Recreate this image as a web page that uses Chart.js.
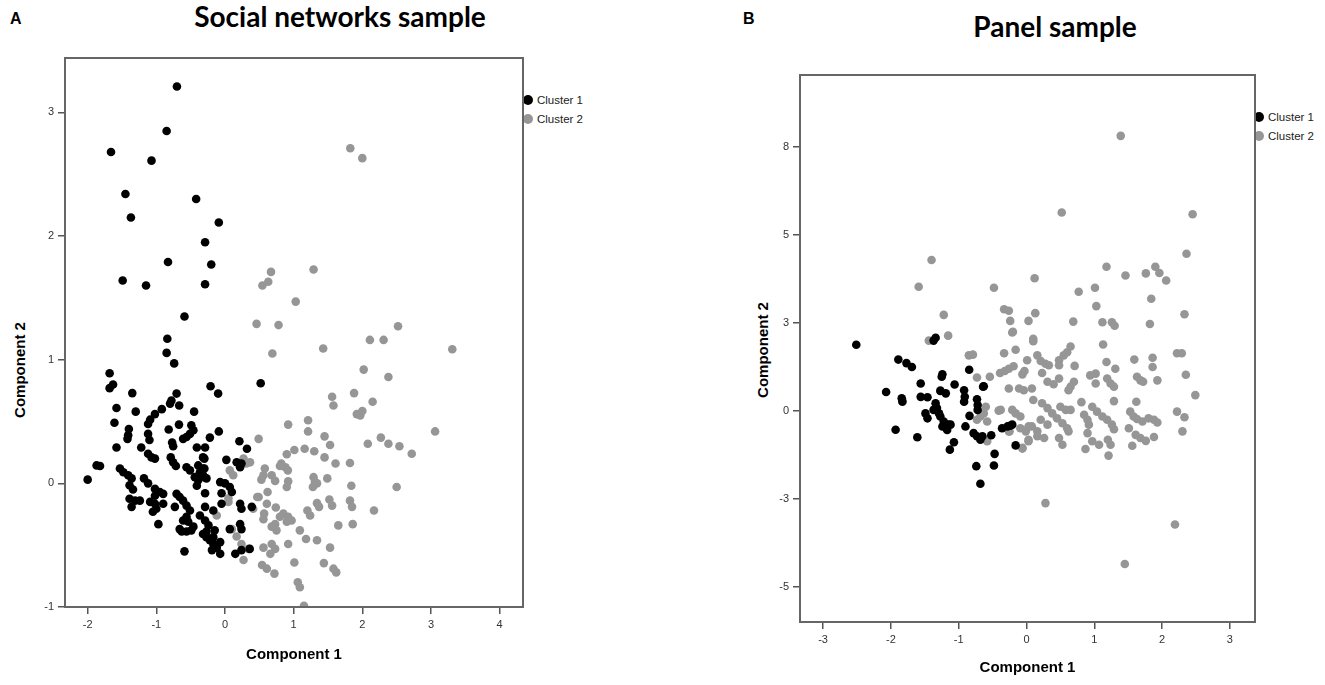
<!DOCTYPE html>
<html>
<head>
<meta charset="utf-8">
<script src="https://cdn.jsdelivr.net/npm/chart.js@4.4.1/dist/chart.umd.min.js"></script>
<style>
  body { margin: 0; background: #fff; width: 1325px; height: 685px; position: relative; overflow: hidden; font-family: "Liberation Sans", Arial, sans-serif; }
  canvas { position: absolute; top: 0; }
  .letter { position: absolute; font-weight: bold; font-size: 16px; line-height: 16px; }
  .title { position: absolute; font-family: Lato, sans-serif; font-weight: bold; font-size: 28px; line-height: 30px; transform: translateX(-50%); white-space: nowrap; }
  .ytitle { position: absolute; font-weight: bold; font-size: 15px; transform: translate(-50%, -50%) rotate(-90deg); white-space: nowrap; }
  .legend { position: absolute; font-size: 11.5px; color: #222; }
  .legend div { height: 19px; display: flex; align-items: center; }
  .legend span { display: inline-block; width: 10px; height: 10px; border-radius: 50%; margin-right: 4px; }
</style>
</head>
<body>
<div class="letter" style="left:10px;top:11px">A</div>
<div class="letter" style="left:743px;top:11px">B</div>
<div class="title" style="left:340px;top:1px">Social networks sample</div>
<div class="title" style="left:1055px;top:11px">Panel sample</div>
<div class="ytitle" style="left:19px;top:370px">Component 2</div>
<div class="ytitle" style="left:762px;top:350px">Component 2</div>
<div class="legend" id="legendA" style="left:523px;top:90px"></div>
<div class="legend" id="legendB" style="left:1254px;top:107px"></div>

<canvas id="socialChart" width="640" height="685" style="left:0"></canvas>
<canvas id="panelChart" width="585" height="685" style="left:740px"></canvas>

<script>
const clusterNames = ['Cluster 1', 'Cluster 2'];
const clusterColors = ['#000000', '#969696'];

// Social networks sample: [component 1, component 2]
const socialCluster1 = [
  [-0.70,3.21],[-0.85,2.85],[-1.66,2.68],[-1.07,2.61],[-1.45,2.34],[-0.42,2.30],[-1.37,2.15],[-0.09,2.11],
  [-0.29,1.95],[-0.83,1.79],[-0.20,1.77],[-1.49,1.64],[-1.15,1.60],[-0.29,1.61],[-0.59,1.35],[-0.84,1.17],
  [-0.85,1.055],[-0.74,0.97],[-1.68,0.89],[-1.63,0.80],[-1.68,0.77],[-1.35,0.73],[-0.21,0.785],[-0.10,0.726],
  [0.52,0.81],[-0.705,0.726],[-0.78,0.67],[-0.80,0.645],[-0.667,0.63],[-1.58,0.61],[-1.30,0.58],[-0.92,0.60],
  [-1.02,0.56],[-1.09,0.515],[-1.12,0.48],[-0.45,0.58],[-1.61,0.49],[-1.40,0.44],[-1.41,0.39],[-1.42,0.36],
  [-0.67,0.475],[-0.82,0.435],[-0.49,0.47],[-0.46,0.43],[-0.51,0.40],[-0.56,0.375],[-0.61,0.36],[-0.09,0.42],
  [-0.22,0.37],[-1.12,0.40],[-1.10,0.35],[0.21,0.34],[-0.77,0.33],[-0.755,0.30],[-1.22,0.29],[-1.58,0.29],
  [-0.41,0.29],[-0.29,0.29],[0.32,0.28],[-1.12,0.24],[-1.07,0.21],[-1.02,0.20],[-0.32,0.21],[-0.79,0.21],
  [-0.755,0.17],[-0.715,0.14],[0.02,0.19],[0.17,0.17],[0.22,0.13],[-0.56,0.13],[-0.51,0.105],[-0.39,0.145],
  [-0.32,0.12],[-0.365,0.09],[-0.32,0.065],[-0.27,0.04],[-1.87,0.145],[-1.82,0.14],[-2.00,0.03],[-1.53,0.12],
  [-1.48,0.09],[-1.41,0.065],[-1.36,0.04],[-1.39,-0.015],[-1.34,-0.05],[-1.18,0.04],[-1.12,0.00],[-1.02,-0.045],
  [-0.95,-0.07],[-0.90,-0.085],[-1.02,-0.10],[-0.44,0.05],[-0.39,0.025],[-0.41,-0.02],[-0.07,0.01],[0.00,0.00],
  [0.07,-0.03],[0.10,-0.07],[-0.05,-0.08],[-0.705,-0.085],[-0.66,-0.11],[-0.61,-0.14],[-0.56,-0.18],[-0.51,-0.22],
  [-1.39,-0.125],[-1.31,-0.14],[-1.24,-0.14],[-1.36,-0.19],[-1.09,-0.15],[-1.02,-0.165],[-1.00,-0.205],[-1.05,-0.23],
  [-0.90,-0.165],[-0.73,-0.19],[-0.97,-0.33],[-0.56,-0.27],[-0.61,-0.30],[-0.535,-0.31],[-0.46,-0.35],[-0.49,-0.38],
  [-0.66,-0.37],[-0.63,-0.39],[-0.56,-0.39],[-0.365,-0.26],[-0.29,-0.30],[-0.24,-0.34],[-0.32,-0.41],[-0.27,-0.435],
  [-0.22,-0.46],[-0.17,-0.49],[-0.12,-0.52],[-0.07,-0.57],[-0.19,-0.54],[-0.27,-0.39],[-0.15,-0.38],[-0.17,-0.435],
  [-0.07,-0.475],[-0.59,-0.55],[-0.17,-0.22],[-0.05,-0.165],[0.22,-0.165],[0.24,-0.205],[0.24,0.16],[-0.30,0.20],
  [-0.30,0.12],[-0.30,0.05],[0.39,-0.19],[-0.29,-0.08],[-0.29,-0.19],[0.07,-0.37],[0.22,-0.33],[0.24,-0.37],
  [0.15,-0.57],[0.24,-0.54],[0.36,-0.53]
];
const socialCluster2 = [
  [0.67,1.71],[0.63,1.63],[0.545,1.60],[1.825,2.71],[2.00,2.63],[1.29,1.73],[1.03,1.47],[0.46,1.29],
  [0.78,1.28],[2.52,1.27],[2.11,1.16],[2.31,1.16],[0.69,1.05],[1.43,1.09],[3.31,1.085],[2.02,0.92],
  [2.38,0.86],[1.56,0.70],[1.58,0.63],[1.88,0.73],[2.15,0.66],[1.92,0.56],[2.00,0.585],[1.97,0.55],
  [0.92,0.475],[1.21,0.51],[1.21,0.42],[0.49,0.36],[3.06,0.42],[1.45,0.38],[1.53,0.31],[2.08,0.32],
  [2.27,0.37],[2.38,0.32],[2.54,0.30],[2.72,0.24],[1.01,0.27],[0.90,0.235],[1.16,0.28],[1.30,0.26],
  [1.45,0.21],[1.61,0.16],[1.82,0.165],[0.82,0.16],[0.80,0.14],[0.88,0.13],[0.915,0.105],[0.58,0.12],
  [0.68,0.065],[0.73,0.02],[0.92,0.016],[0.90,-0.03],[0.53,0.03],[1.29,0.05],[1.31,0.01],[1.28,-0.03],
  [1.34,0.00],[1.49,0.04],[1.84,-0.02],[2.50,-0.03],[0.62,-0.07],[0.47,-0.11],[0.74,-0.195],[0.61,-0.165],
  [0.56,-0.29],[0.57,-0.245],[1.34,-0.16],[1.37,-0.19],[1.52,-0.13],[1.56,-0.18],[1.82,-0.14],[1.85,-0.19],
  [2.17,-0.22],[1.20,-0.22],[1.24,-0.26],[0.85,-0.245],[0.92,-0.27],[0.97,-0.30],[0.90,-0.31],[0.80,-0.27],
  [0.73,-0.33],[0.75,-0.38],[0.68,-0.35],[1.09,-0.38],[1.18,-0.45],[1.65,-0.34],[1.86,-0.33],[1.34,-0.46],
  [1.53,-0.52],[0.92,-0.49],[0.68,-0.49],[0.73,-0.53],[0.66,-0.57],[0.56,-0.52],[0.54,-0.66],[0.61,-0.69],
  [0.72,-0.73],[1.01,-0.64],[1.44,-0.645],[1.58,-0.69],[1.62,-0.72],[1.06,-0.80],[1.09,-0.84],[1.15,-0.99],
  [0.31,0.16],[0.365,0.17],[0.05,-0.12],[-0.12,-0.26],[0.10,-0.37],[0.17,-0.43],[0.24,-0.49],[0.27,-0.62],
  [0.34,-0.53],[0.41,-0.205],[0.27,0.20],[0.07,0.105],[0.12,0.065],[0.56,0.065],[0.49,-0.11],[0.05,-0.15]
];

// Panel sample
const panelCluster1 = [
  [-2.51,1.88],[-1.34,2.08],[-1.37,2.00],[-1.89,1.46],[-1.77,1.36],[-1.69,1.25],[-0.845,1.17],[-1.24,1.04],
  [-1.25,0.97],[-1.56,0.78],[-1.06,0.75],[-0.63,0.70],[-2.07,0.54],[-1.19,0.50],[-1.27,0.57],[-0.92,0.59],
  [-0.91,0.40],[-0.92,0.26],[-1.56,0.40],[-1.46,0.39],[-1.84,0.36],[-1.83,0.26],[-1.34,0.22],[-1.32,0.08],
  [-1.29,-0.07],[-1.37,0.03],[-1.49,-0.07],[-1.46,-0.21],[-0.73,0.33],[-0.72,0.17],[-0.72,0.03],[-0.84,-0.14],
  [-1.27,-0.16],[-1.22,-0.30],[-1.15,-0.39],[-1.24,-0.44],[-1.17,-0.54],[-1.12,-0.39],[-0.90,-0.44],[-1.93,-0.535],
  [-1.61,-0.75],[-0.78,-0.63],[-0.73,-0.72],[-0.68,-0.82],[-0.65,-0.72],[-0.52,-0.69],[-0.36,-0.49],[-0.24,-0.42],
  [-0.16,-0.98],[-1.07,-0.89],[-1.13,-1.10],[-0.47,-1.22],[-0.74,-1.57],[-0.48,-1.55],[-0.68,-2.07],[-0.64,0.69],
  [-0.28,-0.44],[-0.21,-0.39]
];
const panelCluster2 = [
  [-1.22,2.73],[-1.155,2.14],[-1.44,2.00],[-0.85,1.58],[-0.79,1.60],[-0.33,2.89],[-0.26,2.85],[-0.24,2.56],
  [-0.21,2.23],[0.13,2.78],[0.03,2.56],[0.10,1.98],[-0.33,1.64],[-0.16,1.74],[0.01,1.44],[0.16,1.58],
  [-0.73,0.95],[-0.54,0.97],[-0.39,1.08],[-0.32,1.135],[-0.26,1.20],[-0.19,1.27],[-0.06,1.04],[-0.03,1.135],
  [-0.26,0.64],[-0.11,0.64],[-0.04,0.59],[0.08,0.64],[0.10,0.31],[-0.41,0.01],[-0.21,0.03],[-0.16,-0.07],
  [-0.09,-0.16],[-0.73,-0.25],[-0.68,-0.16],[-0.63,-0.07],[-0.58,-0.30],[-0.58,-0.86],[-0.26,-0.58],[-0.09,-0.49],
  [-0.01,-0.58],[0.08,-0.44],[-0.06,-1.05],[0.03,-0.82],[-1.27,0.59],[-1.83,0.30],[-0.60,0.12],[0.16,-0.72],
  [1.39,7.82],[0.52,5.64],[2.45,5.59],[2.36,4.47],[1.18,4.10],[1.46,3.85],[1.76,3.91],[1.90,4.10],
  [1.96,3.92],[2.06,3.71],[0.12,3.77],[0.77,3.39],[1.01,3.50],[1.03,2.98],[1.84,3.19],[2.33,2.75],
  [0.69,2.54],[1.12,2.52],[1.26,2.52],[1.30,2.42],[1.82,2.47],[0.10,2.05],[-0.20,2.25],[0.21,1.42],
  [0.28,1.34],[0.33,1.30],[0.65,1.83],[0.60,1.67],[0.55,1.58],[0.48,1.44],[0.48,1.30],[0.71,1.28],
  [1.13,1.89],[1.18,1.39],[1.31,1.20],[1.59,1.46],[1.86,1.51],[1.86,1.25],[2.22,1.64],[2.29,1.64],
  [2.35,1.03],[2.49,0.45],[0.23,1.08],[0.31,0.83],[0.40,0.76],[0.48,0.92],[0.65,0.69],[0.70,0.83],
  [0.62,0.59],[0.94,1.01],[1.02,1.06],[1.02,0.78],[1.19,0.92],[1.24,0.78],[1.29,0.69],[1.63,0.97],
  [1.68,0.87],[1.72,0.83],[1.93,0.87],[-0.38,0.03],[0.23,0.22],[0.31,0.08],[0.38,-0.07],[0.45,-0.21],
  [0.53,-0.35],[0.60,-0.49],[0.62,-0.58],[0.50,0.12],[0.58,0.03],[0.65,0.03],[0.81,0.25],[0.97,0.12],
  [1.04,-0.02],[1.12,-0.16],[1.19,-0.25],[1.26,-0.39],[1.29,-0.52],[0.85,-0.11],[0.90,-0.25],[0.92,-0.39],
  [1.29,0.28],[1.62,0.26],[1.53,-0.02],[1.58,-0.16],[1.63,-0.23],[1.71,-0.30],[1.80,-0.21],[1.88,-0.25],
  [1.93,-0.33],[1.51,-0.49],[1.61,-0.68],[1.68,-0.77],[1.76,-0.85],[1.88,-0.74],[1.56,-0.99],[2.22,-0.02],
  [2.33,-0.18],[2.30,-0.58],[0.21,-0.25],[0.31,-0.39],[0.16,-0.58],[0.26,-0.77],[0.03,-0.44],[0.03,-0.86],
  [0.48,-0.77],[0.53,-0.96],[0.90,-0.63],[0.97,-0.86],[1.07,-0.96],[1.20,-0.82],[1.24,-0.96],[0.87,-1.08],
  [1.21,-1.27],[-0.06,-1.07],[-0.25,-0.58],[0.28,-2.62],[2.19,-3.23],[1.45,-4.35],[-1.40,4.29],[-1.59,3.53],
  [-0.48,3.50]
];

// tick values and their printed labels
const socialXTicks = [-2, -1, 0, 1, 2, 3, 4];
const socialYTicks = [-1, 0, 1, 2, 3];
const panelXTicks = [-3, -2, -1, 0, 1, 2, 3];
const panelYTicks = [-5, -2.5, 0, 2.5, 5, 7.5];
const panelYTickLabels = ['-5', '-3', '0', '3', '5', '8'];

const toPoints = arr => arr.map(p => ({ x: p[0], y: p[1] }));

// box round the plot area
const framePlugin = {
  id: 'frame',
  afterDatasetsDraw(chart) {
    const { ctx, chartArea: a } = chart;
    ctx.save();
    ctx.strokeStyle = '#666';
    ctx.lineWidth = 2;
    ctx.strokeRect(a.left, a.top, a.right - a.left, a.bottom - a.top);
    ctx.restore();
  }
};

function axis(min, max, tickVals, labels, extra) {
  return Object.assign({
    type: 'linear',
    min: min,
    max: max,
    afterBuildTicks: s => { s.ticks = tickVals.map(v => ({ value: v })); },
    ticks: {
      padding: 4,
      color: '#333',
      font: { family: 'Liberation Sans', size: 11 },
      callback: v => labels ? labels[tickVals.indexOf(v)] : String(v)
    },
    grid: { drawOnChartArea: false, drawTicks: true, tickLength: 7, color: '#555', lineWidth: 1.5 },
    border: { display: true, color: '#666', width: 2 }
  }, extra);
}

function makeChart(id, c1, c2, o) {
  const ctx = document.getElementById(id).getContext('2d');
  return new Chart(ctx, {
    type: 'scatter',
    data: {
      datasets: [c1, c2].map((d, i) => ({
        label: clusterNames[i],
        data: toPoints(d),
        backgroundColor: clusterColors[i],
        borderWidth: 0,
        pointRadius: 4.3,
        pointHoverRadius: 4.3
      }))
    },
    options: {
      responsive: false,
      animation: false,
      devicePixelRatio: 1,
      events: [],
      layout: { padding: { left: 0, top: o.top, right: o.right, bottom: 0 } },
      plugins: { legend: { display: false }, tooltip: { enabled: false } },
      scales: {
        x: axis(o.xMin, o.xMax, o.xTicks, null, {
          afterFit: s => { s.height = o.xH; },
          title: { display: true, text: 'Component 1', color: '#000',
                   font: { family: 'Liberation Sans', size: 15, weight: 'bold' },
                   padding: { top: 0, bottom: o.titlePad } }
        }),
        y: axis(o.yMin, o.yMax, o.yTicks, o.yLabels, {
          afterFit: s => { s.width = o.yW; }
        })
      }
    },
    plugins: [framePlugin]
  });
}

const socialChart = makeChart('socialChart', socialCluster1, socialCluster2, {
  top: 58, right: 117, xH: 78, yW: 65, titlePad: 21,
  xMin: -2.33, xMax: 4.34, xTicks: socialXTicks,
  yMin: -1, yMax: 3.44, yTicks: socialYTicks, yLabels: null
});

const panelChart = makeChart('panelChart', panelCluster1, panelCluster2, {
  top: 75, right: 70, xH: 63, yW: 60, titlePad: 8,
  xMin: -3.34, xMax: 3.37, xTicks: panelXTicks,
  yMin: -6, yMax: 9.55, yTicks: panelYTicks, yLabels: panelYTickLabels
});

// legends built from the chart datasets
[['legendA', socialChart], ['legendB', panelChart]].forEach(([el, chart]) => {
  document.getElementById(el).innerHTML = chart.data.datasets
    .map(ds => '<div><span style="background:' + ds.backgroundColor + '"></span>' + ds.label + '</div>')
    .join('');
});
</script>
</body>
</html>
